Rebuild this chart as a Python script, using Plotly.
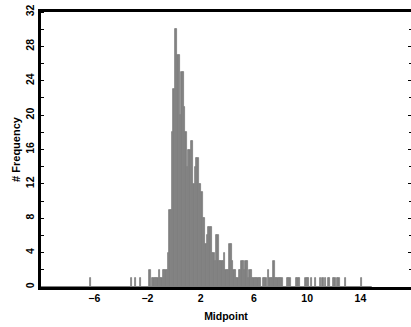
import plotly.graph_objects as go

# ---- data (histogram) ----
bin_width = 0.1
midpoints = [
    -6.3, -3.2, -2.9, -2.5, -1.8, -1.6, -1.5, -1.4, -1.3, -1.2, -1.1, -1.0, -0.9, -0.8,
    -0.7, -0.6, -0.5, -0.4, -0.3, -0.2, -0.1, 0.0, 0.1, 0.2, 0.3, 0.4, 0.5, 0.6, 0.7,
    0.8, 0.9, 1.0, 1.1, 1.2, 1.3, 1.4, 1.5, 1.6, 1.7, 1.8, 1.9, 2.0, 2.1, 2.2, 2.3,
    2.4, 2.5, 2.6, 2.7, 2.8, 2.9, 3.0, 3.1, 3.2, 3.3, 3.4, 3.5, 3.6, 3.7, 3.8, 3.9,
    4.0, 4.1, 4.2, 4.3, 4.4, 4.5, 4.6, 4.7, 4.8, 4.9, 5.0, 5.1, 5.2, 5.3, 5.4, 5.5,
    5.6, 5.7, 5.8, 5.9, 6.0, 6.1, 6.2, 6.3, 6.4, 6.5, 6.7, 6.8, 6.9, 7.1, 7.2, 7.3,
    7.4, 7.5, 7.6, 7.7, 7.8, 7.9, 8.0, 8.1, 8.5, 8.6, 8.7, 9.2, 9.3, 9.4, 9.9, 10.0,
    10.1, 10.3, 10.6, 11.0, 11.2, 11.4, 11.6, 11.7, 12.0, 12.1, 12.3, 12.4, 12.9, 14.1,
]
frequency = [
    1, 1, 1, 1, 2, 1, 1, 1, 1, 1, 2, 1, 1, 2,
    2, 2, 2, 4, 9, 9, 18, 23, 30, 30, 27, 27, 20, 25, 25,
    21, 18, 14, 16, 16, 17, 17, 12, 14, 15, 15, 12, 12, 11, 8, 8,
    5, 6, 7, 7, 7, 4, 4, 3, 6, 6, 3, 3, 3, 3, 4, 2,
    2, 2, 5, 5, 3, 2, 2, 1, 1, 2, 2, 3, 3, 2, 3, 3,
    1, 2, 2, 1, 1, 1, 1, 1, 1, 1, 1, 1, 1, 2, 1, 1,
    1, 3, 1, 1, 1, 1, 1, 1, 1, 1, 1, 1, 1, 1, 1, 1,
    1, 1, 1, 1, 1, 1, 1, 1, 1, 1, 1, 1, 1, 1,
]
hist_start, hist_end = -10.0, 14.85
x_tick_vals = [-6, -2, 2, 6, 10, 14]
y_tick_vals = [0, 4, 8, 12, 16, 20, 24, 28, 32]
x_range = [-10, 17.8]
y_range = [0, 32]

GRAY = "#808080"
FONT = "Liberation Sans"

fig = go.Figure()
fig.add_trace(go.Bar(
    x=midpoints, y=frequency, width=bin_width,
    marker=dict(color=GRAY, line=dict(width=0.8, color=GRAY)),
    hoverinfo="skip",
))
fig.add_trace(go.Scatter(
    x=[hist_start, hist_end], y=[0, 0], mode="lines",
    line=dict(color=GRAY, width=2), yaxis="y2", hoverinfo="skip",
))

fig.update_layout(
    width=411, height=327,
    margin=dict(l=41, r=0, t=12, b=40, pad=0),
    paper_bgcolor="white", plot_bgcolor="white",
    showlegend=False, bargap=0,
    font=dict(family=FONT, color="black"),
    xaxis=dict(
        range=x_range, showline=True, linecolor="black", linewidth=2.5, mirror=True,
        ticks="", tickmode="array", tickvals=x_tick_vals,
        tickfont=dict(family=FONT, size=10.5, weight="bold"),
        showgrid=False, zeroline=False, layer="below traces",
        title=dict(text="Midpoint", font=dict(family=FONT, size=10.5, weight="bold"), standoff=10),
    ),
    yaxis=dict(
        range=y_range, showline=True, linecolor="black", linewidth=2.5,
        ticks="", tickmode="array", tickvals=y_tick_vals, tickangle=-90,
        tickfont=dict(family=FONT, size=10.5, weight="bold"),
        minor=dict(dtick=2, tick0=0, ticks="inside", ticklen=3, tickcolor="black", tickwidth=1),
        showgrid=False, zeroline=False, layer="below traces",
        title=dict(text="# Frequency", font=dict(family=FONT, size=11, weight="bold"), standoff=2),
    ),
    yaxis2=dict(
        range=y_range, overlaying="y", side="right", showline=False,
        ticks="inside", tickmode="linear", tick0=0, dtick=4, ticklen=3,
        tickcolor="black", tickwidth=1,
        minor=dict(dtick=2, tick0=0, ticks="inside", ticklen=2, tickcolor="black", tickwidth=1),
        showticklabels=False, showgrid=False, zeroline=False,
    ),
)

fig.write_html("out.html")
